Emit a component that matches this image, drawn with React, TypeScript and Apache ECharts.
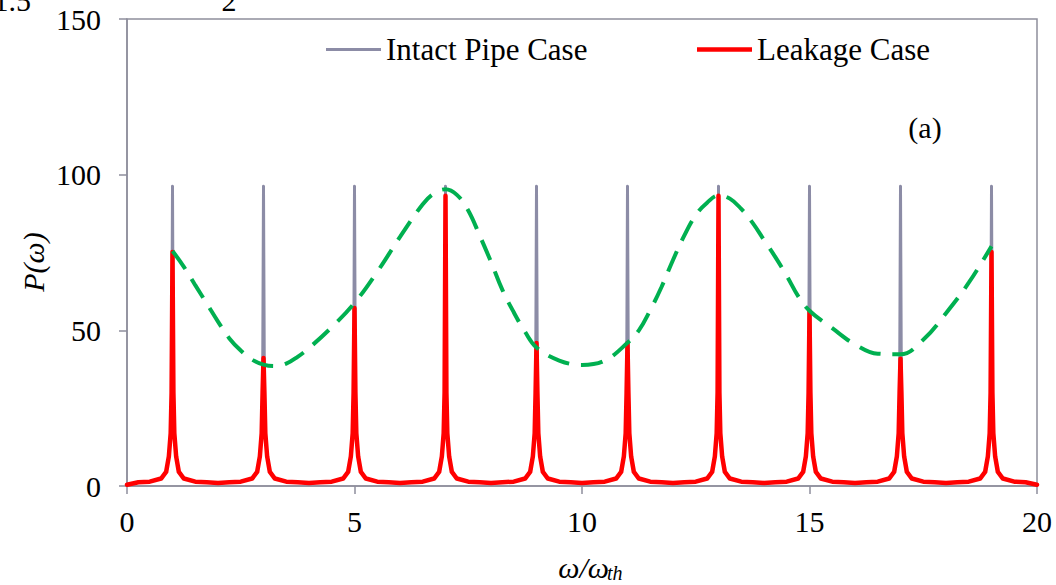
import React, { useEffect, useRef } from "react";
import * as echarts from "echarts";

// Resonance frequencies (odd harmonics of the fundamental) and peak amplitudes
const peakFreqs = [1, 3, 5, 7, 9, 11, 13, 15, 17, 19];
const intactPeaks = [96.3, 96.3, 96.3, 96.3, 96.3, 96.3, 96.3, 96.3, 96.3, 96.3];
const leakagePeaks = [75.2, 41.1, 57.2, 93.2, 45.9, 45.9, 93.2, 56.1, 40.9, 75.2];

// Flank of each resonance: distance from the peak and amplitude there
const skirtOffsets = [0.75, 0.5, 0.25, 0.14, 0.08, 0.04, 0.02];
const skirtValues = [1.2, 1.4, 2.4, 4.5, 9.5, 17, 30];

// Troughs between resonances
const troughFreqs = [0, 2, 4, 6, 8, 10, 12, 14, 16, 18, 20];
const troughValues = [0.4, 1.0, 1.0, 1.0, 1.0, 1.0, 1.0, 1.0, 1.0, 1.0, 0.4];

// Envelope through the leakage peaks
const envelopeFreqs = [
  1.0, 1.25, 1.5, 1.75, 2.0, 2.25, 2.5, 2.75, 3.0, 3.25, 3.5, 3.75, 4.0, 4.5,
  5.0, 5.5, 6.0, 6.5, 6.75, 7.0, 7.25, 7.5, 7.75, 8.0, 8.25, 8.5, 8.75, 9.0,
  9.5, 10.0, 10.5, 11.0, 11.25, 11.5, 11.75, 12.0, 12.25, 12.5, 12.75, 13.0,
  13.25, 13.5, 13.75, 14.0, 14.25, 14.5, 14.75, 15.0, 15.5, 16.0, 16.5, 17.0,
  17.5, 18.0, 18.5, 19.0,
];
const envelopeValues = [
  75.5, 70.4, 64.5, 58.7, 52.8, 47.4, 43.5, 40.6, 39.0, 38.5, 39.3, 41.5, 44.3,
  51.0, 58.8, 68.8, 80.0, 90.5, 94.0, 95.3, 93.5, 88.5, 80.5, 72.0, 63.0, 55.8,
  49.5, 44.5, 40.3, 38.9, 40.3, 46.0, 50.0, 56.5, 64.0, 72.6, 80.5, 87.0, 91.0,
  93.3, 92.3, 89.0, 84.5, 79.0, 73.5, 67.5, 61.0, 56.3, 50.7, 45.5, 42.5, 42.3,
  47.0, 55.5, 65.3, 77.0,
];

const xTicks = { min: 0, max: 20, interval: 5 };
const yTicks = { min: 0, max: 150, interval: 50 };

function buildSpectrum(peaks: number[]): number[][] {
  const pts: number[][] = [[troughFreqs[0], troughValues[0]]];
  peakFreqs.forEach((f, i) => {
    for (let k = 0; k < skirtOffsets.length; k++) {
      pts.push([f - skirtOffsets[k], skirtValues[k]]);
    }
    pts.push([f, peaks[i]]);
    for (let k = skirtOffsets.length - 1; k >= 0; k--) {
      pts.push([f + skirtOffsets[k], skirtValues[k]]);
    }
    pts.push([troughFreqs[i + 1], troughValues[i + 1]]);
  });
  return pts;
}

const SERIF = '"Liberation Serif", "Times New Roman", serif';
const AXIS_COLOR = "#8e8e9c";

export default function App() {
  const ref = useRef<HTMLDivElement>(null);

  useEffect(() => {
    if (!ref.current) return;
    const chart = echarts.init(ref.current, undefined, { renderer: "svg" });
    const envelope = envelopeFreqs.map((f, i) => [f, envelopeValues[i]]);

    chart.setOption({
      animation: false,
      backgroundColor: "#ffffff",
      grid: {
        left: 127,
        right: 19,
        top: 19,
        bottom: 99,
        show: true,
        borderColor: AXIS_COLOR,
        borderWidth: 1.5,
      },
      legend: [
        {
          data: ["Intact Pipe Case"],
          left: 326,
          top: 34,
          padding: 0,
          icon: "rect",
          itemWidth: 55,
          itemHeight: 3,
          textStyle: { fontFamily: SERIF, fontSize: 31, color: "#000" },
        },
        {
          data: ["Leakage Case"],
          left: 697,
          top: 34,
          padding: 0,
          icon: "rect",
          itemWidth: 55,
          itemHeight: 4.5,
          textStyle: { fontFamily: SERIF, fontSize: 31, color: "#000" },
        },
      ],
      xAxis: {
        type: "value",
        min: xTicks.min,
        max: xTicks.max,
        interval: xTicks.interval,
        axisLine: { show: true, lineStyle: { color: AXIS_COLOR, width: 1.5 } },
        axisTick: { show: true, inside: false, length: 8, lineStyle: { color: AXIS_COLOR, width: 1.5 } },
        axisLabel: { fontFamily: SERIF, fontSize: 30, color: "#000", margin: 20 },
        splitLine: { show: false },
      },
      yAxis: {
        type: "value",
        min: yTicks.min,
        max: yTicks.max,
        interval: yTicks.interval,
        axisLine: { show: true, lineStyle: { color: AXIS_COLOR, width: 1.5 } },
        axisTick: { show: true, inside: false, length: 8, lineStyle: { color: AXIS_COLOR, width: 1.5 } },
        axisLabel: { fontFamily: SERIF, fontSize: 30, color: "#000", margin: 26 },
        splitLine: { show: false },
      },
      series: [
        {
          name: "Intact Pipe Case",
          type: "line",
          data: buildSpectrum(intactPeaks),
          showSymbol: false,
          color: "#8c8ca6",
          lineStyle: { color: "#8c8ca6", width: 3, join: "round", cap: "round" },
          z: 2,
        },
        {
          name: "Leakage Case",
          type: "line",
          data: buildSpectrum(leakagePeaks),
          showSymbol: false,
          color: "#ff0000",
          lineStyle: { color: "#ff0000", width: 4.5, join: "round", cap: "round" },
          z: 3,
        },
        {
          name: "Envelope",
          type: "line",
          data: envelope,
          showSymbol: false,
          smooth: 0.4,
          color: "#00b050",
          lineStyle: { color: "#00b050", width: 4, type: [22, 12] },
          z: 4,
        },
      ],
      graphic: [
        {
          type: "text",
          x: 33,
          y: 262,
          rotation: Math.PI / 2,
          style: {
            text: "P(ω)",
            font: `italic 30px ${SERIF}`,
            fill: "#000",
            align: "center",
            verticalAlign: "middle",
          },
        },
        {
          type: "text",
          x: 609,
          y: 567,
          style: {
            text: "ω/ω",
            font: `italic 30px ${SERIF}`,
            fill: "#000",
            align: "right",
            verticalAlign: "middle",
          },
        },
        {
          type: "text",
          x: 607,
          y: 573,
          style: {
            text: "th",
            font: `italic 20px ${SERIF}`,
            fill: "#000",
            align: "left",
            verticalAlign: "middle",
          },
        },
        {
          type: "text",
          x: 925,
          y: 127,
          style: {
            text: "(a)",
            font: `30px ${SERIF}`,
            fill: "#000",
            align: "center",
            verticalAlign: "middle",
          },
        },
        {
          type: "text",
          x: 31,
          y: 0,
          style: {
            text: "1.5",
            font: `30px ${SERIF}`,
            fill: "#000",
            align: "right",
            verticalAlign: "middle",
          },
        },
        {
          type: "text",
          x: 229,
          y: 0,
          style: {
            text: "2",
            font: `30px ${SERIF}`,
            fill: "#000",
            align: "center",
            verticalAlign: "middle",
          },
        },
      ],
    });

    return () => chart.dispose();
  }, []);

  return (
    <div
      ref={ref}
      style={{ position: "absolute", left: 0, top: 0, width: 1056, height: 585 }}
    />
  );
}
